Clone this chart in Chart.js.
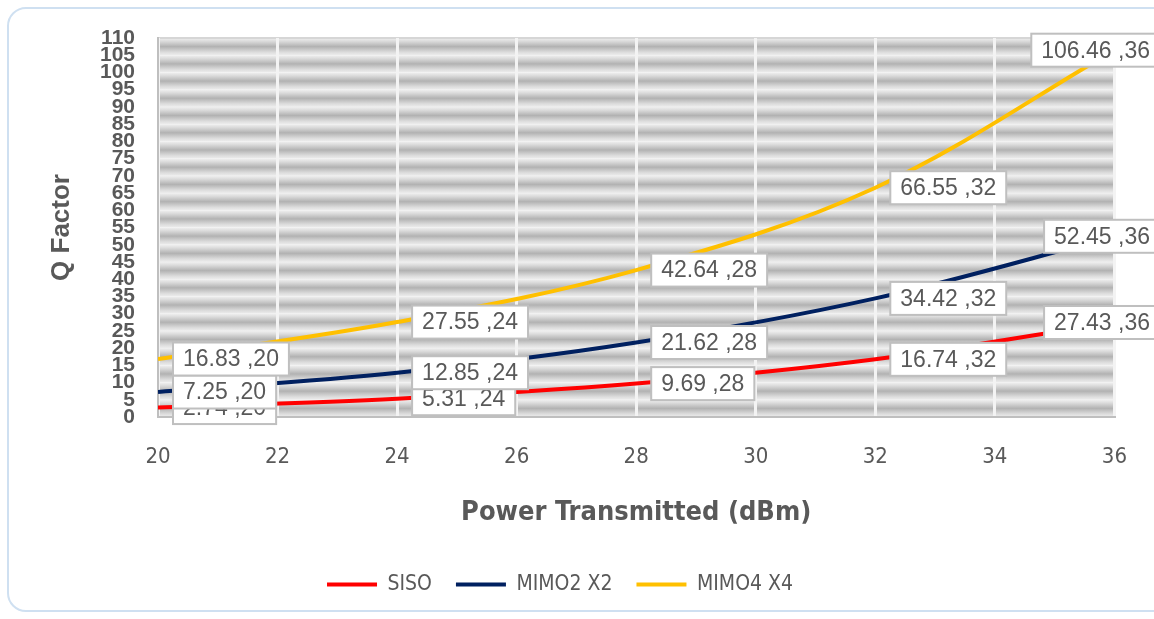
<!DOCTYPE html>
<html><head><meta charset="utf-8">
<script src="https://cdn.jsdelivr.net/npm/chart.js@4.4.1/dist/chart.umd.min.js"></script>
<style>html,body{margin:0;padding:0;background:#fff;}#wrap{width:1154px;height:619px;position:relative;}</style>
</head><body><div id="wrap"><canvas id="c" width="1154" height="619"></canvas></div>
<script>
const xValues = [20, 24, 28, 32, 36];
const sisoValues = [2.74, 5.31, 9.69, 16.74, 27.43];
const mimo2Values = [7.25, 12.85, 21.62, 34.42, 52.45];
const mimo4Values = [16.83, 27.55, 42.64, 66.55, 106.46];
const seriesNames = ['SISO', 'MIMO2 X2', 'MIMO4 X4'];
const seriesColors = ['#ff0000', '#002060', '#ffc000'];
const xTitle = 'Power Transmitted (dBm)';
const yTitle = 'Q Factor';

const NARROW = '"Liberation Sans Narrow","DejaVu Sans Condensed","Liberation Sans",sans-serif';
const SANS = '"Liberation Sans",Arial,sans-serif';
const TXT = '#595959';

function pts(vals){ return xValues.map((x,i)=>({x:x,y:vals[i]})); }

const bgPlugin = {
  id:'bg',
  beforeDraw(chart){
    const {ctx, chartArea:a, scales:{y}} = chart;
    ctx.save();
    ctx.fillStyle='#fff'; ctx.fillRect(0,0,chart.width,chart.height);
    ctx.strokeStyle='#cfe0f1'; ctx.lineWidth=2;
    ctx.beginPath(); ctx.roundRect(8,8,1180,603,18); ctx.stroke();
    for(let v=0; v<110; v+=5){
      const y0=y.getPixelForValue(v+5), y1=y.getPixelForValue(v);
      const g=ctx.createLinearGradient(0,y0,0,y1);
      g.addColorStop(0,'#f0f0f0');
      g.addColorStop(0.18,'#dcdcdc');
      g.addColorStop(0.5,'#b2b2b2');
      g.addColorStop(0.82,'#dcdcdc');
      g.addColorStop(1,'#ededed');
      ctx.fillStyle=g;
      ctx.fillRect(a.left,y0,a.right-a.left,y1-y0);
    }
    ctx.strokeStyle='#d6d6d6'; ctx.lineWidth=2;
    ctx.beginPath(); ctx.moveTo(a.left,a.top); ctx.lineTo(a.right,a.top); ctx.stroke();
    ctx.restore();
  }
};

const labelPlugin = {
  id:'dlabels',
  afterDatasetsDraw(chart){
    const ctx=chart.ctx;
    ctx.save();
    ctx.font='23px '+SANS;
    ctx.textBaseline='middle';
    chart.data.datasets.forEach((ds,di)=>{
      const meta=chart.getDatasetMeta(di);
      meta.data.forEach((el,i)=>{
        const p=ds.data[i];
        const txt=p.y.toFixed(2)+' ,'+p.x;
        const tw=ctx.measureText(txt).width;
        const bw=tw+20, bh=33;
        let left = el.x+15;
        if (p.x===36) left = 1160-bw;
        const top = el.y-bh/2;
        ctx.fillStyle='#fff';
        ctx.fillRect(left,top,bw,bh);
        ctx.strokeStyle='#bfbfbf'; ctx.lineWidth=2;
        ctx.strokeRect(left,top,bw,bh);
        ctx.fillStyle=TXT;
        ctx.textAlign='left';
        ctx.fillText(txt,left+10,el.y+1);
      });
    });
    ctx.restore();
  }
};

const seriesValues=[sisoValues,mimo2Values,mimo4Values];
new Chart(document.getElementById('c'),{
  type:'line',
  data:{datasets:seriesNames.map((n,i)=>({
    label:n, data:pts(seriesValues[i]),
    borderColor:seriesColors[i], backgroundColor:seriesColors[i],
    borderWidth:4, pointRadius:0, tension:0.35, fill:false
  }))},
  options:{
    responsive:false, animation:false, devicePixelRatio:1,
    layout:{padding:{left:0,right:34,top:38,bottom:14}},
    plugins:{
      tooltip:{enabled:false},
      legend:{position:'bottom',
        labels:{boxWidth:50,boxHeight:4,padding:24,color:TXT,font:{family:NARROW,size:21},
          generateLabels(chart){
            const items=Chart.defaults.plugins.legend.labels.generateLabels(chart);
            items.forEach(it=>{it.lineWidth=0; it.fillStyle=it.strokeStyle;});
            return items;
          }}}
    },
    scales:{
      x:{type:'linear',min:20,max:36,
        ticks:{stepSize:2,color:TXT,font:{family:NARROW,size:22},padding:27},
        grid:{color:'#f3f3f3',lineWidth:3,drawTicks:false},
        border:{display:true,color:'#bfbfbf',width:2},
        title:{display:true,text:xTitle,color:TXT,font:{family:NARROW,size:27,weight:'bold'},padding:{top:0,bottom:21}},
        afterFit(s){s.height=133;}
      },
      y:{type:'linear',min:0,max:110,
        ticks:{stepSize:5,autoSkip:false,color:TXT,font:{family:SANS,size:21,weight:'bold'},padding:23},
        grid:{display:false,drawTicks:false},
        border:{display:true,color:'#bfbfbf',width:2},
        title:{display:true,text:yTitle,color:TXT,font:{family:SANS,size:26,weight:'bold'},padding:{top:46,bottom:0}},
        afterFit(s){s.width=158;}
      }
    }
  },
  plugins:[bgPlugin,labelPlugin]
});
</script></body></html>
